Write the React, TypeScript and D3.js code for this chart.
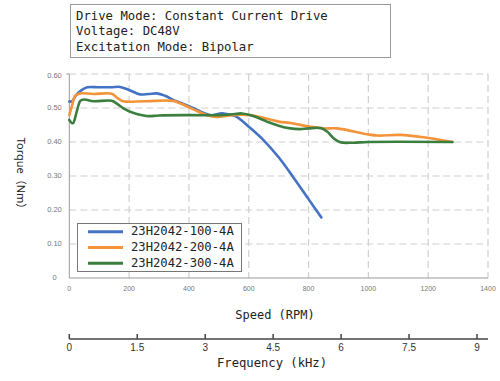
import React from "react";
import * as d3 from "d3";

const infoLines = [
  "Drive Mode: Constant Current Drive",
  "Voltage: DC48V",
  "Excitation Mode: Bipolar",
];

const seriesNames = ["23H2042-100-4A", "23H2042-200-4A", "23H2042-300-4A"];
const seriesColors = ["#4472C4", "#F4943A", "#3B7F3E"];

const blueRpm = [0, 10, 20, 40, 60, 100, 140, 170, 200, 236, 265, 293, 320, 348, 404, 471, 500, 516, 540, 560, 600, 650, 700, 750, 800, 843];
const blueTorque = [0.519, 0.52, 0.535, 0.552, 0.561, 0.561, 0.561, 0.562, 0.553, 0.54, 0.541, 0.543, 0.536, 0.524, 0.504, 0.479, 0.483, 0.484, 0.48, 0.474, 0.445, 0.405, 0.355, 0.295, 0.232, 0.178];

const orangeRpm = [0, 10, 19, 36, 80, 142, 160, 180, 250, 347, 370, 415, 460, 493, 548, 604, 700, 739, 806, 850, 895, 996, 1030, 1107, 1185, 1281];
const orangeTorque = [0.479, 0.51, 0.535, 0.543, 0.541, 0.542, 0.53, 0.52, 0.52, 0.521, 0.514, 0.496, 0.479, 0.474, 0.479, 0.479, 0.46, 0.456, 0.445, 0.44, 0.44, 0.423, 0.419, 0.421, 0.414, 0.4];

const greenRpm = [0, 12, 25, 37, 50, 80, 142, 160, 181, 215, 248, 265, 300, 400, 500, 540, 577, 610, 661, 700, 739, 770, 800, 840, 863, 885, 906, 950, 1000, 1281];
const greenTorque = [0.465, 0.455, 0.49, 0.521, 0.525, 0.52, 0.521, 0.512, 0.499, 0.485, 0.478, 0.476, 0.478, 0.479, 0.479, 0.481, 0.484, 0.478, 0.46, 0.448, 0.44, 0.438, 0.44, 0.441, 0.43, 0.41, 0.399, 0.398, 0.4, 0.4];

const rpmTicks = [0, 200, 400, 600, 800, 1000, 1200, 1400];
const torqueTicks = [0, 0.1, 0.2, 0.3, 0.4, 0.5, 0.6];
const torqueTickLabels = ["0", "0.10", "0.20", "0.30", "0.40", "0.50", "0.60"];
const freqTicks = [0, 1.5, 3, 4.5, 6, 7.5, 9];

export default function App() {
  const x = d3.scaleLinear().domain([0, 1400]).range([69.3, 488]);
  const y = d3.scaleLinear().domain([0, 0.6]).range([278, 74]);
  const f = d3.scaleLinear().domain([0, 9]).range([69.3, 477]);

  const series = [
    blueRpm.map((r, i) => [r, blueTorque[i]]),
    orangeRpm.map((r, i) => [r, orangeTorque[i]]),
    greenRpm.map((r, i) => [r, greenTorque[i]]),
  ];
  const line = d3
    .line<number[]>()
    .x((d) => x(d[0]))
    .y((d) => y(d[1]))
    .curve(d3.curveCatmullRom.alpha(0.5));

  const mono = "'DejaVu Sans Mono', 'Liberation Mono', monospace";
  const sans = "'Liberation Sans', Arial, sans-serif";

  return (
    <svg
      width={500}
      height={381}
      style={{ position: "absolute", left: 0, top: 0, background: "#fff" }}
    >
      {/* info box */}
      <rect x={70.5} y={4.5} width={320} height={53} fill="#fff" stroke="#999" strokeWidth={1} />
      {infoLines.map((t, i) => (
        <text key={t} x={76} y={19.5 + i * 15.5} fontFamily={mono} fontSize={12.3} fill="#222">
          {t}
        </text>
      ))}

      {/* grid */}
      {torqueTicks.slice(1).map((t) => (
        <line
          key={"h" + t}
          x1={x(0)}
          x2={x(1400)}
          y1={y(t)}
          y2={y(t)}
          stroke="#d0d0d0"
          strokeWidth={1.2}
          strokeDasharray="7,4"
        />
      ))}
      {rpmTicks.slice(1).map((t) => (
        <line
          key={"v" + t}
          x1={x(t)}
          x2={x(t)}
          y1={y(0.6)}
          y2={y(0)}
          stroke="#d0d0d0"
          strokeWidth={1.2}
          strokeDasharray="7,4"
        />
      ))}

      {/* axes */}
      <line x1={x(0)} x2={x(0)} y1={y(0.6)} y2={y(0)} stroke="#999" strokeWidth={1} />
      <line x1={x(0) - 3} x2={x(0)} y1={y(0.6)} y2={y(0.6)} stroke="#999" strokeWidth={1} />
      <line x1={x(0)} x2={x(1400)} y1={y(0)} y2={y(0)} stroke="#999" strokeWidth={1} />

      {torqueTicks.map((t, i) => (
        <text
          key={"yl" + t}
          x={54.5}
          y={y(t) + (i === 6 ? 2.5 : 0)}
          textAnchor="middle"
          dominantBaseline="middle"
          fontFamily={sans}
          fontSize={7.5}
          fill="#777"
        >
          {torqueTickLabels[i]}
        </text>
      ))}
      {rpmTicks.map((t) => (
        <text
          key={"xl" + t}
          x={x(t)}
          y={289}
          textAnchor="middle"
          dominantBaseline="middle"
          fontFamily={sans}
          fontSize={7}
          fill="#777"
        >
          {t}
        </text>
      ))}

      <text
        transform={`translate(20,176) rotate(90)`}
        textAnchor="middle"
        dominantBaseline="middle"
        fontFamily="'Noto Sans', 'Noto Sans CJK SC', sans-serif"
        fontSize={11}
        fill="#222"
      >
        Torque（Nm）
      </text>

      {/* curves */}
      {series.map((s, i) => (
        <path
          key={"s" + i}
          d={line(s) || ""}
          fill="none"
          stroke={seriesColors[i]}
          strokeWidth={2.6}
          strokeLinejoin="round"
          strokeLinecap="round"
        />
      ))}

      {/* legend */}
      <rect x={77.5} y={223.5} width={164} height={48} fill="#fff" stroke="#777" strokeWidth={1} />
      {seriesNames.map((n, i) => (
        <g key={n}>
          <line
            x1={88}
            x2={123}
            y1={231.7 + i * 15.8}
            y2={231.7 + i * 15.8}
            stroke={seriesColors[i]}
            strokeWidth={3}
          />
          <text
            x={131}
            y={231.7 + i * 15.8}
            dominantBaseline="middle"
            fontFamily={mono}
            fontSize={12.2}
            fill="#222"
          >
            {n}
          </text>
        </g>
      ))}

      {/* speed title */}
      <text x={275} y={315} textAnchor="middle" dominantBaseline="middle" fontFamily={mono} fontSize={12} fill="#222">
        Speed (RPM)
      </text>

      {/* frequency axis */}
      <line x1={f(0)} x2={488} y1={339} y2={339} stroke="#444" strokeWidth={1.5} />
      {freqTicks.map((t) => (
        <g key={"f" + t}>
          <line x1={f(t)} x2={f(t)} y1={334} y2={339} stroke="#444" strokeWidth={1.5} />
          <text
            x={f(t)}
            y={348}
            textAnchor="middle"
            dominantBaseline="middle"
            fontFamily={sans}
            fontSize={10}
            fill="#333"
          >
            {t}
          </text>
        </g>
      ))}
      <text x={272} y={363} textAnchor="middle" dominantBaseline="middle" fontFamily={mono} fontSize={12.2} fill="#222">
        Frequency (kHz)
      </text>
    </svg>
  );
}
